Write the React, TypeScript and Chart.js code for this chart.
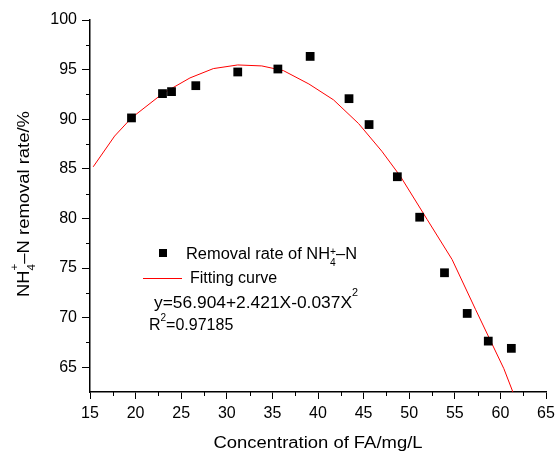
import React, { useEffect, useRef } from 'react';
import { Chart, registerables } from 'chart.js';

Chart.register(...registerables);

// ---------------- data ----------------
const pointX = [19.55, 22.95, 23.94, 26.6, 31.2, 35.6, 39.14, 43.4, 45.6, 48.7, 51.15, 53.87, 56.36, 58.67, 61.2];
const pointY = [90.13, 92.58, 92.78, 93.38, 94.76, 95.06, 96.33, 92.07, 89.46, 84.2, 80.12, 74.52, 70.42, 67.63, 66.9];

const curveX = [15.35, 17.7, 19.55, 22.96, 25.96, 28.52, 31.2, 33.84, 36.2, 39.0, 41.7, 44.45, 47.0, 49.03, 51.97, 54.7, 57.27, 60.38, 61.6];
const curveY = [85.2, 88.3, 90.13, 92.58, 94.16, 95.1, 95.47, 95.37, 94.9, 93.55, 91.95, 89.56, 86.77, 84.25, 79.89, 75.86, 70.83, 64.85, 61.95];

const xTicks = [15, 20, 25, 30, 35, 40, 45, 50, 55, 60, 65];
const yTicks = [65, 70, 75, 80, 85, 90, 95, 100];
const xMinorTicks = [17.5, 22.5, 27.5, 32.5, 37.5, 42.5, 47.5, 52.5, 57.5, 62.5];
const yMinorTicks = [67.5, 72.5, 77.5, 82.5, 87.5, 92.5, 97.5];

const xTitle = 'Concentration of FA/mg/L';
const yTitleHead = 'NH';
const yTitleTail = '\u2013N removal rate/%';
const legendPointsHead = 'Removal rate of NH';
const legendPointsTail = '\u2013N';
const legendCurve = 'Fitting curve';
const equationMain = 'y=56.904+2.421X-0.037X';
const equationSup = '2';
const r2Head = 'R';
const r2Sup = '2';
const r2Tail = '=0.97185';
const ionSup = '+';
const ionSub = '4';

const FONT = '"Liberation Sans", Arial, Helvetica, sans-serif';

type Run =
  | { kind: 'text'; text: string; size: number; dy?: number }
  | { kind: 'stack'; sup: string; sub: string; size: number; supDy: number; subDy: number };

function runsWidth(ctx: CanvasRenderingContext2D, runs: Run[]): number {
  let w = 0;
  for (const r of runs) {
    ctx.font = `${r.size}px ${FONT}`;
    if (r.kind === 'text') w += ctx.measureText(r.text).width;
    else w += Math.max(ctx.measureText(r.sup).width, ctx.measureText(r.sub).width);
  }
  return w;
}

// draws runs starting at local (0,0) after the caller's transform
function drawRuns(ctx: CanvasRenderingContext2D, runs: Run[]) {
  let cx = 0;
  for (const r of runs) {
    ctx.font = `${r.size}px ${FONT}`;
    if (r.kind === 'text') {
      ctx.fillText(r.text, cx, r.dy || 0);
      cx += ctx.measureText(r.text).width;
    } else {
      ctx.fillText(r.sup, cx, r.supDy);
      ctx.fillText(r.sub, cx, r.subDy);
      cx += Math.max(ctx.measureText(r.sup).width, ctx.measureText(r.sub).width);
    }
  }
}

function drawAt(ctx: CanvasRenderingContext2D, x: number, y: number, runs: Run[], targetWidth?: number, rotate = 0, centered = false) {
  const w = runsWidth(ctx, runs);
  const sx = targetWidth ? targetWidth / w : 1;
  ctx.save();
  ctx.translate(x, y);
  if (rotate) ctx.rotate(rotate);
  ctx.scale(sx, 1);
  if (centered) ctx.translate(-w / 2, 0);
  drawRuns(ctx, runs);
  ctx.restore();
}

const minorTicksPlugin = {
  id: 'minorTicks',
  afterDraw(chart: any) {
    const { ctx, chartArea, scales } = chart;
    const xs = scales.x;
    const ys = scales.y;
    ctx.save();
    ctx.strokeStyle = '#000';
    ctx.lineWidth = 1;
    ctx.beginPath();
    xMinorTicks.forEach((v) => {
      const px = Math.round(xs.getPixelForValue(v)) + 0.5;
      ctx.moveTo(px, chartArea.bottom);
      ctx.lineTo(px, chartArea.bottom + 4);
    });
    yMinorTicks.forEach((v) => {
      const py = Math.round(ys.getPixelForValue(v)) + 0.5;
      ctx.moveTo(chartArea.left, py);
      ctx.lineTo(chartArea.left - 4, py);
    });
    ctx.stroke();
    ctx.restore();
  },
};

const textPlugin = {
  id: 'textDecor',
  afterDraw(chart: any) {
    const { ctx, chartArea } = chart;
    const L = chartArea.left;
    const T = chartArea.top;
    ctx.save();
    ctx.fillStyle = '#000';
    ctx.textBaseline = 'alphabetic';
    ctx.textAlign = 'left';

    // y-axis title (rotated)
    drawAt(
      ctx,
      28.5,
      204,
      [
        { kind: 'text', text: yTitleHead, size: 16 },
        { kind: 'stack', sup: ionSup, sub: ionSub, size: 10, supDy: -11, subDy: 6 },
        { kind: 'text', text: yTitleTail, size: 16 },
      ],
      186,
      -Math.PI / 2,
      true
    );

    // x-axis title
    drawAt(ctx, (chartArea.left + chartArea.right) / 2, 447.5, [{ kind: 'text', text: xTitle, size: 16 }], 209, 0, true);

    // legend
    const ox = L - 90;
    const oy = T - 20;
    ctx.fillRect(ox + 159, oy + 249, 8, 8);
    drawAt(ctx, ox + 186, oy + 259, [
      { kind: 'text', text: legendPointsHead, size: 16 },
      { kind: 'stack', sup: ionSup, sub: ionSub, size: 10, supDy: -4, subDy: 7 },
      { kind: 'text', text: legendPointsTail, size: 16 },
    ], 171);
    ctx.strokeStyle = '#ff0000';
    ctx.lineWidth = 1;
    ctx.beginPath();
    ctx.moveTo(ox + 143, oy + 278.5);
    ctx.lineTo(ox + 182, oy + 278.5);
    ctx.stroke();
    drawAt(ctx, ox + 190, oy + 283, [{ kind: 'text', text: legendCurve, size: 16 }]);
    drawAt(ctx, ox + 154, oy + 308, [
      { kind: 'text', text: equationMain, size: 16 },
      { kind: 'text', text: equationSup, size: 10, dy: -12 },
    ], 204);
    drawAt(ctx, ox + 149, oy + 330, [
      { kind: 'text', text: r2Head, size: 16 },
      { kind: 'text', text: r2Sup, size: 10, dy: -9 },
      { kind: 'text', text: r2Tail, size: 16 },
    ]);
    ctx.restore();
  },
};

export default function App() {
  const ref = useRef<HTMLCanvasElement | null>(null);

  useEffect(() => {
    if (!ref.current) return;
    const chart = new Chart(ref.current, {
      type: 'scatter',
      data: {
        datasets: [
          {
            type: 'line',
            label: legendCurve,
            data: curveX.map((x, i) => ({ x, y: curveY[i] })),
            borderColor: '#ff0000',
            borderWidth: 1,
            pointRadius: 0,
            tension: 0,
            fill: false,
            order: 2,
          } as any,
          {
            type: 'scatter',
            label: 'Removal rate',
            data: pointX.map((x, i) => ({ x, y: pointY[i] })),
            pointStyle: 'rect',
            pointRadius: 6.2,
            backgroundColor: '#000',
            borderWidth: 0,
            order: 1,
          } as any,
        ],
      },
      options: {
        responsive: false,
        animation: false,
        devicePixelRatio: 1,
        layout: { padding: { left: 0, right: 14, top: 20, bottom: 0 } },
        plugins: { legend: { display: false }, tooltip: { enabled: false } },
        scales: {
          x: {
            type: 'linear',
            min: 15,
            max: 65,
            afterBuildTicks: (s: any) => {
              s.ticks = xTicks.map((v) => ({ value: v }));
            },
            afterFit: (s: any) => {
              s.height = 61;
            },
            ticks: { color: '#000', font: { family: FONT, size: 16 }, padding: 5, maxRotation: 0, autoSkip: false },
            grid: { drawOnChartArea: false, drawTicks: true, tickLength: 7, tickColor: '#000', tickWidth: 1 },
            border: { color: '#000', width: 1.5 },
          },
          y: {
            type: 'linear',
            min: 62.5,
            max: 100,
            afterBuildTicks: (s: any) => {
              s.ticks = yTicks.map((v) => ({ value: v }));
            },
            afterFit: (s: any) => {
              s.width = 90;
            },
            ticks: { color: '#000', font: { family: FONT, size: 16 }, padding: 5, autoSkip: false },
            grid: { drawOnChartArea: false, drawTicks: true, tickLength: 8, tickColor: '#000', tickWidth: 1 },
            border: { color: '#000', width: 1.5 },
          },
        },
      },
      plugins: [minorTicksPlugin, textPlugin],
    });
    return () => chart.destroy();
  }, []);

  return (
    <div style={{ position: 'fixed', left: 0, top: 0, width: 560, height: 453, background: '#fff' }}>
      <canvas ref={ref} width={560} height={453} style={{ display: 'block', width: 560, height: 453 }} />
    </div>
  );
}
